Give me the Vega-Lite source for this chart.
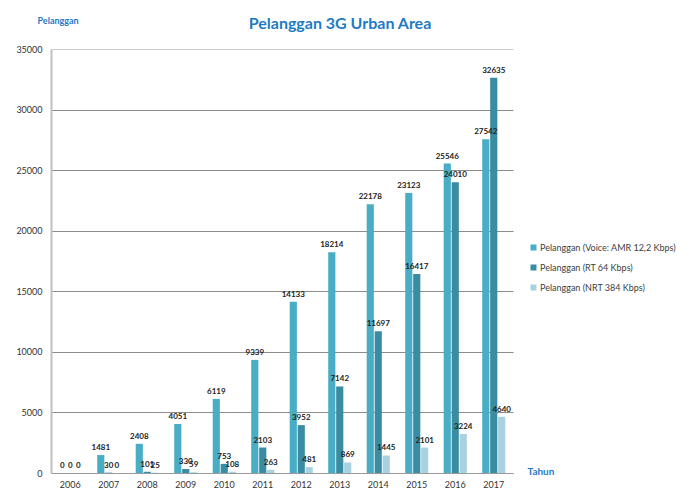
{
  "$schema": "https://vega.github.io/schema/vega-lite/v6.json",
  "width": 462,
  "height": 424,
  "autosize": {"type": "none"},
  "padding": {"left": 51, "top": 49, "right": 176, "bottom": 16},
  "background": "white",
  "title": {
    "text": "Pelanggan 3G Urban Area",
    "font": "Lato",
    "fontSize": 16,
    "fontWeight": "bold",
    "color": "#1f7ac6",
    "anchor": "middle",
    "frame": "group",
    "dx": 58,
    "dy": 30,
    "offset": 14
  },
  "data": {
    "values": [
      {"Tahun": "2006", "Seri": "Pelanggan (Voice: AMR 12,2 Kbps)", "Pelanggan": 0},
      {"Tahun": "2006", "Seri": "Pelanggan (RT 64 Kbps)", "Pelanggan": 0},
      {"Tahun": "2006", "Seri": "Pelanggan (NRT 384 Kbps)", "Pelanggan": 0},
      {"Tahun": "2007", "Seri": "Pelanggan (Voice: AMR 12,2 Kbps)", "Pelanggan": 1481},
      {"Tahun": "2007", "Seri": "Pelanggan (RT 64 Kbps)", "Pelanggan": 30},
      {"Tahun": "2007", "Seri": "Pelanggan (NRT 384 Kbps)", "Pelanggan": 0},
      {"Tahun": "2008", "Seri": "Pelanggan (Voice: AMR 12,2 Kbps)", "Pelanggan": 2408},
      {"Tahun": "2008", "Seri": "Pelanggan (RT 64 Kbps)", "Pelanggan": 101},
      {"Tahun": "2008", "Seri": "Pelanggan (NRT 384 Kbps)", "Pelanggan": 25},
      {"Tahun": "2009", "Seri": "Pelanggan (Voice: AMR 12,2 Kbps)", "Pelanggan": 4051},
      {"Tahun": "2009", "Seri": "Pelanggan (RT 64 Kbps)", "Pelanggan": 330},
      {"Tahun": "2009", "Seri": "Pelanggan (NRT 384 Kbps)", "Pelanggan": 59},
      {"Tahun": "2010", "Seri": "Pelanggan (Voice: AMR 12,2 Kbps)", "Pelanggan": 6119},
      {"Tahun": "2010", "Seri": "Pelanggan (RT 64 Kbps)", "Pelanggan": 753},
      {"Tahun": "2010", "Seri": "Pelanggan (NRT 384 Kbps)", "Pelanggan": 108},
      {"Tahun": "2011", "Seri": "Pelanggan (Voice: AMR 12,2 Kbps)", "Pelanggan": 9339},
      {"Tahun": "2011", "Seri": "Pelanggan (RT 64 Kbps)", "Pelanggan": 2103},
      {"Tahun": "2011", "Seri": "Pelanggan (NRT 384 Kbps)", "Pelanggan": 263},
      {"Tahun": "2012", "Seri": "Pelanggan (Voice: AMR 12,2 Kbps)", "Pelanggan": 14133},
      {"Tahun": "2012", "Seri": "Pelanggan (RT 64 Kbps)", "Pelanggan": 3952},
      {"Tahun": "2012", "Seri": "Pelanggan (NRT 384 Kbps)", "Pelanggan": 481},
      {"Tahun": "2013", "Seri": "Pelanggan (Voice: AMR 12,2 Kbps)", "Pelanggan": 18214},
      {"Tahun": "2013", "Seri": "Pelanggan (RT 64 Kbps)", "Pelanggan": 7142},
      {"Tahun": "2013", "Seri": "Pelanggan (NRT 384 Kbps)", "Pelanggan": 869},
      {"Tahun": "2014", "Seri": "Pelanggan (Voice: AMR 12,2 Kbps)", "Pelanggan": 22178},
      {"Tahun": "2014", "Seri": "Pelanggan (RT 64 Kbps)", "Pelanggan": 11697},
      {"Tahun": "2014", "Seri": "Pelanggan (NRT 384 Kbps)", "Pelanggan": 1445},
      {"Tahun": "2015", "Seri": "Pelanggan (Voice: AMR 12,2 Kbps)", "Pelanggan": 23123},
      {"Tahun": "2015", "Seri": "Pelanggan (RT 64 Kbps)", "Pelanggan": 16417},
      {"Tahun": "2015", "Seri": "Pelanggan (NRT 384 Kbps)", "Pelanggan": 2101},
      {"Tahun": "2016", "Seri": "Pelanggan (Voice: AMR 12,2 Kbps)", "Pelanggan": 25546},
      {"Tahun": "2016", "Seri": "Pelanggan (RT 64 Kbps)", "Pelanggan": 24010},
      {"Tahun": "2016", "Seri": "Pelanggan (NRT 384 Kbps)", "Pelanggan": 3224},
      {"Tahun": "2017", "Seri": "Pelanggan (Voice: AMR 12,2 Kbps)", "Pelanggan": 27542},
      {"Tahun": "2017", "Seri": "Pelanggan (RT 64 Kbps)", "Pelanggan": 32635},
      {"Tahun": "2017", "Seri": "Pelanggan (NRT 384 Kbps)", "Pelanggan": 4640}
    ]
  },
  "encoding": {
    "x": {
      "field": "Tahun",
      "type": "nominal",
      "scale": {"paddingInner": 0.4, "paddingOuter": 0.2},
      "axis": {
        "title": "Tahun",
        "titleFont": "Lato",
        "titleFontSize": 10,
        "titleFontWeight": "bold",
        "titleColor": "#1f7ac6",
        "titleAlign": "left",
        "titleAnchor": "start",
        "titleBaseline": "alphabetic",
        "titleX": 476,
        "titleY": 1,
        "labelAngle": 0,
        "labelFont": "Lato",
        "labelFontSize": 9,
        "labelColor": "#333333",
        "labelPadding": 7,
        "ticks": false,
        "domain": true,
        "domainColor": "#9a9a9a",
        "grid": false
      }
    },
    "xOffset": {
      "field": "Seri",
      "type": "nominal",
      "scale": {
        "domain": ["Pelanggan (Voice: AMR 12,2 Kbps)", "Pelanggan (RT 64 Kbps)", "Pelanggan (NRT 384 Kbps)"],
        "paddingInner": 0.1
      }
    },
    "y": {
      "field": "Pelanggan",
      "type": "quantitative",
      "scale": {"domain": [0, 35000], "nice": false},
      "axis": {
        "title": "Pelanggan",
        "titleFont": "Lato",
        "titleFontSize": 9,
        "titleFontWeight": "bold",
        "titleColor": "#1f7ac6",
        "titleAngle": 0,
        "titleAlign": "left",
        "titleAnchor": "start",
        "titleBaseline": "alphabetic",
        "titleX": -14,
        "titleY": -26,
        "values": [0, 5000, 10000, 15000, 20000, 25000, 30000, 35000],
        "format": "d",
        "labelFont": "Lato",
        "labelFontSize": 9,
        "labelColor": "#333333",
        "labelPadding": 9,
        "ticks": false,
        "domainColor": "#c0c0c0",
        "domainWidth": 2,
        "grid": true,
        "gridColor": {"condition": {"test": "datum.value == 35000", "value": "#cccccc"}, "value": "#8c8c8c"},
        "gridWidth": 1
      }
    }
  },
  "layer": [
    {
      "mark": {"type": "bar"},
      "encoding": {
        "color": {
          "field": "Seri",
          "type": "nominal",
          "scale": {
            "domain": ["Pelanggan (Voice: AMR 12,2 Kbps)", "Pelanggan (RT 64 Kbps)", "Pelanggan (NRT 384 Kbps)"],
            "range": ["#4aadc6", "#3a8ca2", "#a8d2df"]
          },
          "legend": {
            "title": null,
            "orient": "none",
            "legendX": 478,
            "legendY": 194,
            "symbolType": "square",
            "symbolSize": 36,
            "symbolStrokeWidth": 0,
            "labelFont": "Lato",
            "labelFontSize": 9,
            "labelColor": "#404040",
            "labelOffset": 2,
            "rowPadding": 10
          }
        }
      }
    },
    {
      "mark": {"type": "text", "dy": -7, "font": "Lato", "fontSize": 8, "fontWeight": "bold", "color": "#222222"},
      "encoding": {
        "text": {"field": "Pelanggan", "type": "quantitative", "format": "d"}
      }
    }
  ],
  "config": {"view": {"stroke": null}}
}
